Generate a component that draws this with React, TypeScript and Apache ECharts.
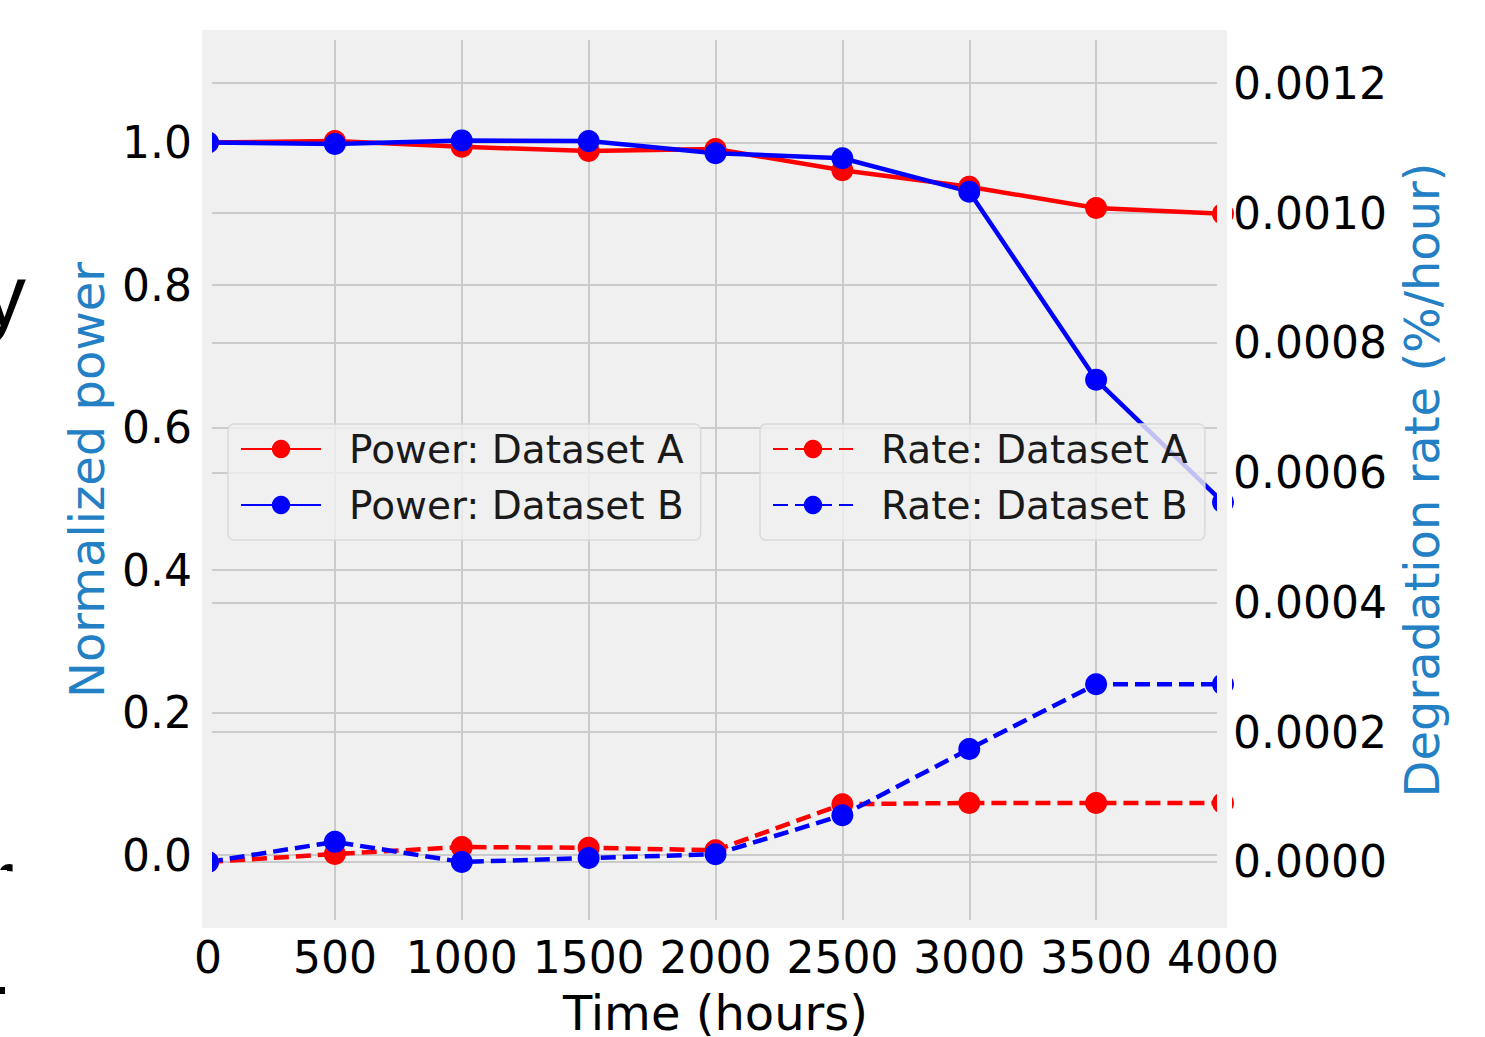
import React, { useEffect, useRef } from "react";
import * as echarts from "echarts";

const hours = [0, 500, 1000, 1500, 2000, 2500, 3000, 3500, 4000];
const powerA = [1.0, 1.002, 0.994, 0.988, 0.991, 0.961, 0.938, 0.908, 0.9];
const powerB = [1.0, 0.998, 1.003, 1.002, 0.985, 0.978, 0.931, 0.667, 0.495];
const rateA = [0.0, 0.0000123, 0.000023, 0.000022, 0.000018, 0.000089, 0.000091, 0.000091, 0.000091];
const rateB = [0.0, 0.000031, 0.0, 0.000006, 0.000012, 0.000072, 0.000174, 0.000274, 0.000274];
const leftTicks = [0, 0.2, 0.4, 0.6, 0.8, 1.0];
const rightTicks = [0, 0.0002, 0.0004, 0.0006, 0.0008, 0.001, 0.0012];
const seriesNames = ["Power: Dataset A", "Power: Dataset B", "Rate: Dataset A", "Rate: Dataset B"];

const FONT = "DejaVu Sans";
const RED = "#ff0000";
const BLUE = "#0000ff";
const TITLE_BLUE = "#2480c4";
const GRID = "#cbcbcb";

function pairs(vals: number[]) {
  return hours.map((h, i) => [h, vals[i]]);
}

function lineSeries(name: string, vals: number[], color: string, axis: number, dashed: boolean) {
  return {
    name,
    type: "line",
    yAxisIndex: axis,
    data: pairs(vals),
    symbol: "circle",
    symbolSize: 22,
    clip: true,
    lineStyle: { color, width: 4.5, type: dashed ? [15, 7] : "solid" },
    itemStyle: { color },
    emphasis: { disabled: true },
  };
}

export default function App() {
  const ref = useRef<HTMLDivElement>(null);
  useEffect(() => {
    if (!ref.current) return;
    const chart = echarts.init(ref.current, undefined, { renderer: "svg" });
    const legendBase = {
      orient: "vertical",
      top: 424,
      itemWidth: 80,
      itemHeight: 23,
      itemGap: 12,
      padding: [3, 17, 13, 12],
      backgroundColor: "rgba(240,240,240,0.8)",
      borderColor: "#d9d9d9",
      borderWidth: 1.5,
      borderRadius: 6,
      selectedMode: false,
      textStyle: { fontFamily: FONT, fontSize: 39, color: "#1a1a1a", lineHeight: 44, padding: [0, 0, 0, 23] },
    };
    chart.setOption({
      animation: false,
      backgroundColor: "#ffffff",
      textStyle: { fontFamily: FONT },
      grid: { left: 208, top: 40, width: 1015, height: 880, containLabel: false, outerBoundsMode: "none" },
      xAxis: {
        type: "value",
        min: 0,
        max: 4000,
        interval: 500,
        axisLine: { show: false },
        axisTick: { show: false },
        splitLine: { show: true, lineStyle: { color: GRID, width: 2 } },
        axisLabel: {
          formatter: (v: number) => String(v),
          fontFamily: FONT,
          fontSize: 44,
          color: "#000",
          margin: 15,
          lineHeight: 44,
        },
        name: "Time (hours)",
        nameLocation: "middle",
        nameGap: 69,
        nameTextStyle: { fontFamily: FONT, fontSize: 48, lineHeight: 48, color: "#000" },
      },
      yAxis: [
        {
          type: "value",
          position: "left",
          min: -0.0912,
          max: 1.1439,
          axisLine: { show: false },
          axisTick: { show: false, customValues: leftTicks },
          splitLine: { show: true, lineStyle: { color: GRID, width: 2 } },
          axisLabel: {
            customValues: leftTicks,
            formatter: (v: number) => v.toFixed(1),
            fontFamily: FONT,
            fontSize: 44,
            color: "#000",
            margin: 16,
          },
          name: "Normalized power",
          nameLocation: "middle",
          nameRotate: 90,
          nameGap: 96,
          nameTextStyle: { fontFamily: FONT, fontSize: 48, color: TITLE_BLUE },
        },
        {
          type: "value",
          position: "right",
          min: -0.0000894,
          max: 0.0012666,
          axisLine: { show: false },
          axisTick: { show: false, customValues: rightTicks },
          splitLine: { show: true, lineStyle: { color: GRID, width: 2 } },
          axisLabel: {
            customValues: rightTicks,
            formatter: (v: number) => v.toFixed(4),
            fontFamily: FONT,
            fontSize: 44,
            color: "#000",
            margin: 10,
          },
          name: "Degradation rate (%/hour)",
          nameLocation: "middle",
          nameRotate: 90,
          nameGap: 175,
          nameTextStyle: { fontFamily: FONT, fontSize: 48, color: TITLE_BLUE },
        },
      ],
      legend: [
        { ...legendBase, left: 228, data: [seriesNames[0], seriesNames[1]] },
        { ...legendBase, left: 760, data: [seriesNames[2], seriesNames[3]] },
      ],
      series: [
        lineSeries(seriesNames[0], powerA, RED, 0, false),
        lineSeries(seriesNames[1], powerB, BLUE, 0, false),
        lineSeries(seriesNames[2], rateA, RED, 1, true),
        lineSeries(seriesNames[3], rateB, BLUE, 1, true),
      ],
      graphic: [
        { type: "rect", silent: true, z: -10, shape: { x: 202, y: 30, width: 1025, height: 898 }, style: { fill: "#f0f0f0" } },
        { type: "rect", silent: true, z: 100, shape: { x: 202, y: 30, width: 10, height: 898 }, style: { fill: "#f0f0f0" } },
        { type: "rect", silent: true, z: 100, shape: { x: 1217, y: 30, width: 10, height: 898 }, style: { fill: "#f0f0f0" } },
        { type: "rect", silent: true, z: 100, shape: { x: 194, y: 30, width: 8, height: 898 }, style: { fill: "#ffffff" } },
        { type: "rect", silent: true, z: 100, shape: { x: 1227, y: 30, width: 5, height: 898 }, style: { fill: "#ffffff" } },
        { type: "text", silent: true, z: 100, x: 26, y: 251, style: { text: "y", fontFamily: "Liberation Sans", fontSize: 88, fill: "#000", align: "right", verticalAlign: "top" } },
        { type: "text", silent: true, z: 100, x: 14, y: 836, style: { text: "r", fontFamily: "Liberation Sans", fontSize: 88, fill: "#000", align: "right", verticalAlign: "top" } },
        { type: "rect", silent: true, z: 101, shape: { x: 0, y: 870, width: 7, height: 50 }, style: { fill: "#ffffff" } },
        { type: "rect", silent: true, z: 100, shape: { x: 0, y: 987, width: 5, height: 7 }, style: { fill: "#000" } },
      ],
    });
    return () => chart.dispose();
  }, []);
  return (
    <div
      ref={ref}
      style={{ position: "fixed", left: 0, top: 0, width: 1485, height: 1037, background: "#fff" }}
    />
  );
}
